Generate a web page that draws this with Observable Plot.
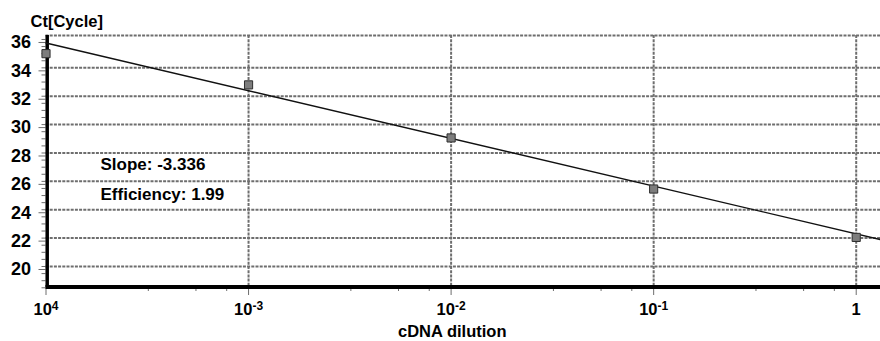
<!DOCTYPE html>
<html><head><meta charset="utf-8">
<script src="https://cdn.jsdelivr.net/npm/d3@7"></script>
<script src="https://cdn.jsdelivr.net/npm/@observablehq/plot@0.6"></script>
<style>body{margin:0;background:#fff;} svg{display:block;}</style>
</head><body><div id="chart"></div>
<script>
// Data
const dilutions = [1e-4, 1e-3, 1e-2, 1e-1, 1];
const ctValues = [35.0, 32.8, 29.06, 25.46, 22.05];
// fitted standard curve (endpoints)
const fitX = [1e-4, 1.318];
const fitY = [35.75, 21.9];
// axes
const xDomain = [1e-4, 1.318];
const yDomain = [18.52, 36.28];
const yTicks = [20, 22, 24, 26, 28, 30, 32, 34, 36];
const yGrid = [20, 22, 24, 26, 28, 30, 32, 34];
const yMinor = [18.5, 19, 19.5, 20, 20.5, 21, 21.5, 22, 22.5, 23, 23.5, 24, 24.5, 25, 25.5, 26, 26.5, 27, 27.5, 28, 28.5, 29, 29.5, 30, 30.5, 31, 31.5, 32, 32.5, 33, 33.5, 34, 34.5, 35, 35.5, 36];
const xTicks = [1e-4, 1e-3, 1e-2, 1e-1, 1];
const xTickBase = ["10", "10", "10", "10", "1"];
const xTickExp = ["4", "-3", "-2", "-1", ""];
const xGrid = [1e-3, 1e-2, 1e-1, 1];
const xMinor = [3.2e-4, 5.5e-4, 7.8e-4, 3.2e-3, 5.5e-3, 7.8e-3, 3.2e-2, 5.5e-2, 7.8e-2, 3.2e-1, 5.5e-1, 7.8e-1];
const yLabel = "Ct[Cycle]";
const xLabel = "cDNA dilution";
const annotations = ["Slope: -3.336", "Efficiency: 1.99"];

const points = dilutions.map((d, i) => ({x: d, y: ctValues[i]}));
const fit = fitX.map((d, i) => ({x: d, y: fitY[i]}));
const gridColor = "#6e6e6e";
const dash = "3,1.2";

const chart = Plot.plot({
  width: 880,
  height: 341,
  marginLeft: 45.5,
  marginRight: 0,
  marginTop: 35,
  marginBottom: 54,
  style: {fontFamily: "'Liberation Sans', Arial, sans-serif", fontSize: "17px", fontWeight: "bold", color: "#000", background: "#fff"},
  x: {type: "log", domain: xDomain, axis: null},
  y: {domain: yDomain, axis: null},
  marks: [
    Plot.ruleY(yGrid, {stroke: gridColor, strokeWidth: 2, strokeDasharray: dash}),
    Plot.ruleY([yDomain[1]], {stroke: gridColor, strokeWidth: 2, strokeDasharray: dash}),
    Plot.ruleX(xGrid, {stroke: gridColor, strokeWidth: 2, strokeDasharray: dash}),
    Plot.axisY(yMinor, {anchor: "left", tickSize: 4, tickFormat: () => "", stroke: gridColor, label: null}),
    Plot.axisY(yTicks, {anchor: "left", tickSize: 7, tickPadding: 8, stroke: gridColor, fill: "#000", fontSize: 18, fontWeight: "bold", dy: 3, label: null}),
    Plot.axisX(xMinor, {anchor: "bottom", tickSize: 4, tickFormat: () => "", stroke: gridColor, label: null}),
    Plot.axisX(xTicks, {anchor: "bottom", tickSize: 8, tickPadding: 8, stroke: gridColor, fill: "#000", fontSize: 16.5, fontWeight: "bold", label: null,
      tickFormat: d => { const i = xTicks.indexOf(d); return xTickExp[i] ? xTickBase[i] + "^" + xTickExp[i] : xTickBase[i]; }}),
    Plot.ruleX([xDomain[0]], {stroke: "#000", strokeWidth: 3.5, dx: 1.2}),
    Plot.ruleY([yDomain[0]], {stroke: "#000", strokeWidth: 4, dy: -0.5}),
    Plot.line(fit, {x: "x", y: "y", stroke: "#111", strokeWidth: 1.4}),
    Plot.dot(points, {x: "x", y: "y", symbol: "square", r: 4.6, fill: "#7d7d7d", stroke: "#2e2e2e", strokeWidth: 1}),
    Plot.text([annotations[0]], {text: d => d, frameAnchor: "top-left", dx: 54.5, dy: 129.5, textAnchor: "start", lineAnchor: "middle", fontSize: 17, fontWeight: "bold", fill: "#000"}),
    Plot.text([annotations[1]], {text: d => d, frameAnchor: "top-left", dx: 54.5, dy: 159, textAnchor: "start", lineAnchor: "middle", fontSize: 17, fontWeight: "bold", fill: "#000"}),
    Plot.text([yLabel], {text: d => d, frameAnchor: "top-left", dx: -15.5, dy: -13.5, textAnchor: "start", lineAnchor: "middle", fontSize: 16.5, fontWeight: "bold", fill: "#000"}),
    Plot.text([xLabel], {text: d => d, frameAnchor: "bottom", dx: -11, dy: 44.5, textAnchor: "middle", lineAnchor: "middle", fontSize: 16.5, fontWeight: "bold", fill: "#000"})
  ]
});

// superscript exponents on the x tick labels
chart.querySelectorAll("text").forEach(t => {
  const s = t.textContent;
  if (s.includes("^")) {
    const [base, exp] = s.split("^");
    while (t.firstChild) t.removeChild(t.firstChild);
    const ns = "http://www.w3.org/2000/svg";
    const a = document.createElementNS(ns, "tspan");
    a.textContent = base;
    const b = document.createElementNS(ns, "tspan");
    b.textContent = exp;
    b.setAttribute("font-size", "12");
    b.setAttribute("dy", "-5");
    t.appendChild(a);
    t.appendChild(b);
  }
});

document.getElementById("chart").appendChild(chart);
</script>
</body></html>
